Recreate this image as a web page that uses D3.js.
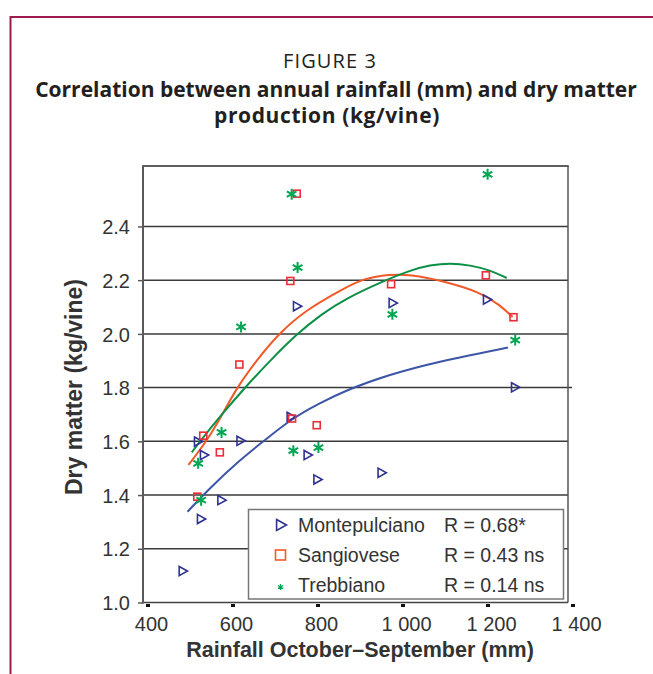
<!DOCTYPE html>
<html>
<head>
<meta charset="utf-8">
<script src="https://cdn.jsdelivr.net/npm/d3@7"></script>
<style>
  html, body { margin: 0; padding: 0; background: #fff; }
  svg { display: block; }
  .tick-label { font-family: Arial, "Liberation Sans", sans-serif; font-size: 20px; fill: #333; }
</style>
</head>
<body>
<svg id="chart" width="653" height="674"></svg>
<script>
// ---------------- data ----------------
const titleLines = ["FIGURE 3", "Correlation between annual rainfall (mm) and dry matter", "production (kg/vine)"];
const xTitle = "Rainfall October\u2013September (mm)";
const yTitle = "Dry matter (kg/vine)";
const xTicks = [400, 600, 800, 1000, 1200, 1400];
const xTickLabels = ["400", "600", "800", "1 000", "1 200", "1 400"];
const yTicks = [1.0, 1.2, 1.4, 1.6, 1.8, 2.0, 2.2, 2.4];
const seriesNames = ["Montepulciano", "Sangiovese", "Trebbiano"];
const seriesR = ["R = 0.68*", "R = 0.43 ns", "R = 0.14 ns"];

const montepulciano = [
  [482, 1.117], [525, 1.311], [518, 1.599], [532, 1.549], [573, 1.381], [618, 1.602],
  [751, 2.103], [736, 1.691], [776, 1.549], [799, 1.458], [950, 1.483], [976, 2.115],
  [1198, 2.128], [1264, 1.801]
];
const sangiovese = [
  [750, 2.522], [735, 2.197], [615, 1.886], [530, 1.621], [569, 1.559], [516, 1.394],
  [739, 1.685], [797, 1.660], [972, 2.185], [1195, 2.218], [1260, 2.062]
];
const trebbiano = [
  [738, 2.520], [752, 2.247], [619, 2.026], [573, 1.633], [518, 1.518], [525, 1.381],
  [742, 1.565], [801, 1.577], [975, 2.073], [1199, 2.594], [1264, 1.977]
];

// trend curves
const trendMontepulciano = [
  [493, 1.338], [542, 1.421], [620, 1.536], [667, 1.594], [738, 1.685], [805, 1.743],
  [867, 1.791], [962, 1.846], [1079, 1.896], [1247, 1.949]
];
const trendSangiovese = [
  [495, 1.512], [538, 1.600], [575, 1.700], [609, 1.800], [657, 1.905], [707, 2.000],
  [770, 2.088], [863, 2.171], [907, 2.206], [969, 2.222], [1016, 2.221], [1095, 2.197],
  [1181, 2.156], [1228, 2.107], [1258, 2.063]
];
const trendTrebbiano = [
  [503, 1.559], [522, 1.600], [575, 1.703], [628, 1.800], [690, 1.905], [750, 2.000],
  [810, 2.075], [863, 2.130], [958, 2.200], [1020, 2.238], [1063, 2.256], [1111, 2.264],
  [1158, 2.256], [1205, 2.237], [1244, 2.208]
];

// ---------------- layout ----------------
const svg = d3.select("#chart");
const x = d3.scaleLinear().domain([400, 1400]).range([148, 573]);
const y = d3.scaleLinear().domain([1.0, 2.625]).range([602.5, 166]);
const frameL = 143, frameR = 568, frameT = y(2.625), frameB = y(1.0);

const colBlue = "#2e3192", colBlueLine = "#3c55a5";
const colRed = "#ec2d38", colOrange = "#f05a28";
const colGreen = "#00a651", colGreenLine = "#0b8f45";

// outer maroon frame
svg.append("rect").attr("x", 10.5).attr("y", 17).attr("width", 700).attr("height", 700)
  .attr("fill", "none").attr("stroke", "#9e1a4c").attr("stroke-width", 2);

// titles
const tfont = "'Open Sans', 'Noto Sans', sans-serif";
svg.append("text").attr("x", 330).attr("y", 68).attr("text-anchor", "middle")
  .style("font-family", tfont).style("font-size", "20px").style("letter-spacing", "1.1px").style("fill", "#231f20")
  .text(titleLines[0]);
svg.append("text").attr("x", 336).attr("y", 97).attr("text-anchor", "middle")
  .style("font-family", tfont).style("font-size", "21px").style("font-weight", "bold").style("fill", "#231f20")
  .text(titleLines[1]);
svg.append("text").attr("x", 327).attr("y", 123).attr("text-anchor", "middle")
  .style("font-family", tfont).style("font-size", "21px").style("letter-spacing", "0.6px")
  .style("font-weight", "bold").style("fill", "#231f20")
  .text(titleLines[2]);

// gridlines
svg.append("g").selectAll("line").data(yTicks.filter(d => d > 1.0)).join("line")
  .attr("x1", frameL).attr("x2", d => d === 1.8 ? frameR + 4 : frameR)
  .attr("y1", d => y(d)).attr("y2", d => y(d))
  .attr("stroke", "#3a3a3a").attr("stroke-width", 1.5);

// frame top & right
svg.append("line").attr("x1", frameL).attr("x2", frameR + 0.75).attr("y1", frameT).attr("y2", frameT)
  .attr("stroke", "#2a2a2a").attr("stroke-width", 1.5);
svg.append("line").attr("x1", frameR).attr("x2", frameR).attr("y1", frameT).attr("y2", frameB)
  .attr("stroke", "#555").attr("stroke-width", 1.5);
// bottom axis line
svg.append("line").attr("x1", frameL).attr("x2", frameR).attr("y1", frameB).attr("y2", frameB)
  .attr("stroke", "#444").attr("stroke-width", 1.5);
// y axis line
svg.append("line").attr("x1", frameL).attr("x2", frameL).attr("y1", frameT - 0.75).attr("y2", frameB + 1)
  .attr("stroke", "#5a5a5a").attr("stroke-width", 2);

// y axis ticks and labels (via d3 axis)
const yAxis = d3.axisLeft(y).tickValues(yTicks).tickFormat(d3.format(".1f")).tickSize(5).tickPadding(8);
const gy = svg.append("g").attr("transform", `translate(${frameL},0)`).call(yAxis);
gy.select(".domain").remove();
gy.selectAll(".tick line").attr("stroke", "#5a5a5a").attr("stroke-width", 1.5);
gy.selectAll(".tick text").attr("class", "tick-label").attr("dy", "0.36em");

// x axis ticks (small dashes) and labels
const xAxis = d3.axisBottom(x).tickValues(xTicks).tickFormat((d, i) => xTickLabels[i]).tickSize(0).tickPadding(14);
const gx = svg.append("g").attr("transform", `translate(3,${frameB})`).call(xAxis);
gx.select(".domain").remove();
gx.selectAll(".tick text").attr("class", "tick-label").attr("dy", "0.71em");
svg.append("g").selectAll("rect").data(xTicks).join("rect")
  .attr("x", d => x(d) - 2).attr("y", frameB + 1.5).attr("width", 4).attr("height", 3).attr("fill", "#111");

// axis titles
svg.append("text").attr("x", 360).attr("y", 657).attr("text-anchor", "middle")
  .style("font-family", "Arial, 'Liberation Sans', sans-serif").style("font-size", "21.5px")
  .style("font-weight", "bold").style("fill", "#333").text(xTitle);
svg.append("text").attr("transform", "translate(82,387) rotate(-90)").attr("text-anchor", "middle")
  .style("font-family", "Arial, 'Liberation Sans', sans-serif").style("font-size", "23px")
  .style("font-weight", "bold").style("fill", "#333").text(yTitle);

// trend curves
const line = d3.line().x(d => x(d[0])).y(d => y(d[1])).curve(d3.curveBasis);
const trends = [[trendMontepulciano, colBlueLine], [trendSangiovese, colOrange], [trendTrebbiano, colGreenLine]];
svg.append("g").selectAll("path").data(trends).join("path")
  .attr("d", d => line(d[0])).attr("fill", "none").attr("stroke", d => d[1]).attr("stroke-width", 2);

// markers
const triPath = (s) => `M${-0.8*s},${-s} L${s},0 L${-0.8*s},${s} Z`;
const starPath = (s) => `M0,${-s} L0,${s} M${-0.87*s},${-0.5*s} L${0.87*s},${0.5*s} M${-0.87*s},${0.5*s} L${0.87*s},${-0.5*s}`;

svg.append("g").selectAll("path").data(montepulciano).join("path")
  .attr("transform", d => `translate(${x(d[0])},${y(d[1])})`)
  .attr("d", triPath(4.6)).attr("fill", "none").attr("stroke", colBlue).attr("stroke-width", 1.6);
svg.append("g").selectAll("rect").data(sangiovese).join("rect")
  .attr("x", d => x(d[0]) - 3.5).attr("y", d => y(d[1]) - 3.5).attr("width", 7).attr("height", 7)
  .attr("fill", "none").attr("stroke", colRed).attr("stroke-width", 1.6);
svg.append("g").selectAll("path").data(trebbiano).join("path")
  .attr("transform", d => `translate(${x(d[0])},${y(d[1])})`)
  .attr("d", starPath(5.5)).attr("fill", "none").attr("stroke", colGreen).attr("stroke-width", 2);

// legend
const lg = svg.append("g");
lg.append("rect").attr("x", 248.5).attr("y", 509.5).attr("width", 315).attr("height", 89.5)
  .attr("fill", "#fff").attr("stroke", "#777").attr("stroke-width", 1.5);
const lfont = "Arial, 'Liberation Sans', sans-serif";
const rows = [525, 555, 585];
lg.append("path").attr("transform", `translate(281,${rows[0]})`).attr("d", triPath(5.5))
  .attr("fill", "none").attr("stroke", colBlue).attr("stroke-width", 1.6);
lg.append("rect").attr("x", 275.5).attr("y", rows[1] - 5).attr("width", 10).attr("height", 10)
  .attr("fill", "none").attr("stroke", colOrange).attr("stroke-width", 1.6);
lg.append("path").attr("transform", `translate(280.5,${rows[2] + 2})`).attr("d", starPath(3))
  .attr("fill", "none").attr("stroke", colGreen).attr("stroke-width", 1.3);
lg.selectAll("text.name").data(seriesNames).join("text").attr("class", "name")
  .attr("x", 298).attr("y", (d, i) => rows[i] + 7)
  .style("font-family", lfont).style("font-size", "19.5px").style("fill", "#333").text(d => d);
lg.selectAll("text.r").data(seriesR).join("text").attr("class", "r")
  .attr("x", 444).attr("y", (d, i) => rows[i] + 7)
  .style("font-family", lfont).style("font-size", "19.5px").style("fill", "#333").text(d => d);
</script>
</body>
</html>
